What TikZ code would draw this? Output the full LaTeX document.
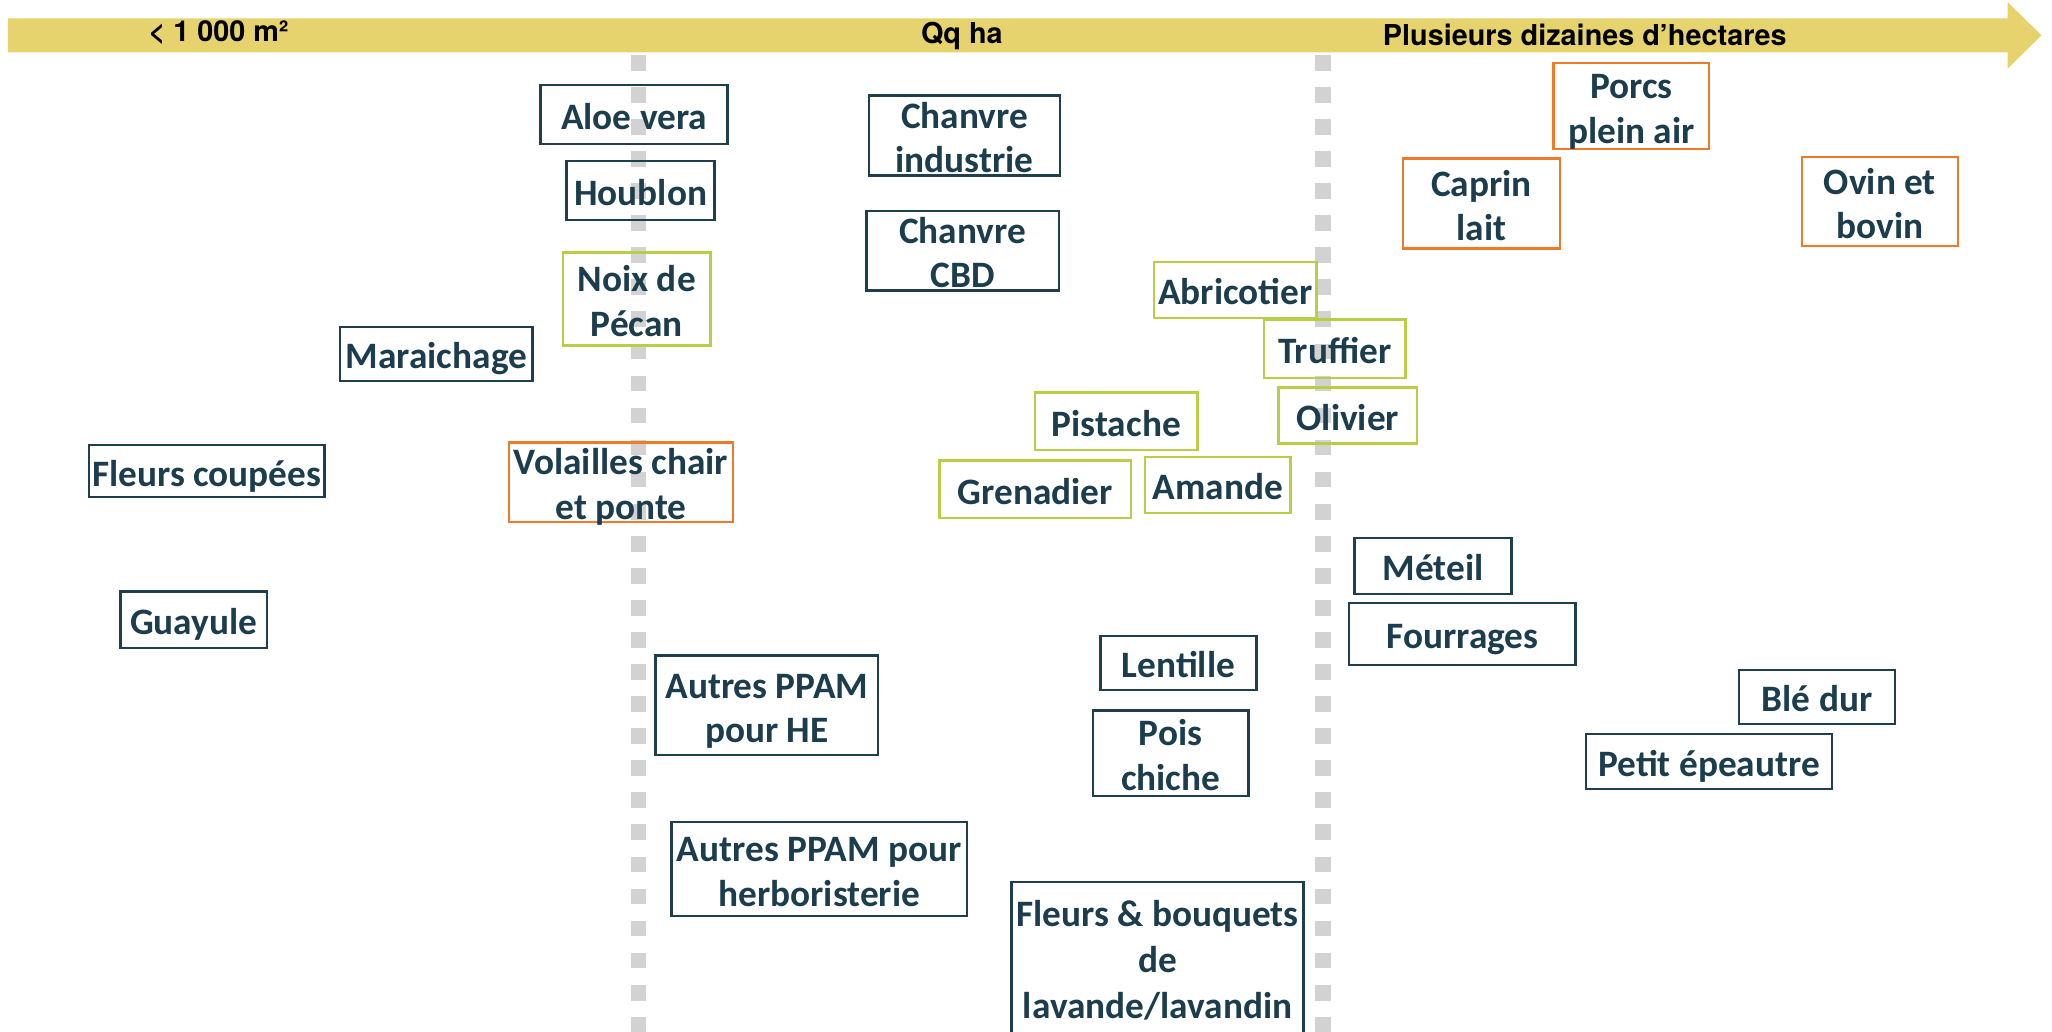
\documentclass[tikz,border=0pt]{standalone}
\usepackage{fontspec}
\newfontfamily\boxfont{Carlito}
\newfontfamily\hdrfont{TeX Gyre Heros}
\definecolor{boxdark}{HTML}{1F3F4F}
\definecolor{textdark}{HTML}{1B3D4D}
\definecolor{boxgreen}{HTML}{B7CE45}
\definecolor{boxorange}{HTML}{EE7A2A}
\definecolor{bandyellow}{HTML}{E6D36E}
\definecolor{sepgray}{HTML}{D2D2D2}
\newcommand\bxt[2][10.8pt]{\raisebox{-#1}[5pt][5pt]{\begin{tabular}{@{}c@{}}#2\end{tabular}}}
\begin{document}
\begin{tikzpicture}[x=1pt,y=-1pt,
  bx/.style={draw=boxdark, line width=1.8pt, text=textdark, inner sep=0pt,
    font=\boxfont\bfseries\fontsize{28.5}{34}\selectfont},
  gbx/.style={bx, draw=boxgreen},
  obx/.style={bx, draw=boxorange},
  hdr/.style={anchor=base, inner sep=0pt, text=black,
    font=\hdrfont\bfseries\fontsize{22}{26}\selectfont},
  sepline/.style={draw=sepgray, line width=12pt, dash pattern=on 12pt off 12.5pt}]
\clip (0,0) rectangle (1568,788);
\fill[white] (0,0) rectangle (1568,788);
% axis arrow
\fill[bandyellow] (6,14) -- (1534,14) -- (1534,1.5) -- (1560,27) -- (1534,52.5) -- (1534,40) -- (6,40) -- cycle;
\node[hdr] (h1) at (167,32) {< 1 000 m²};
\node[hdr] (h2) at (735,33.5) {Qq ha};
\node[hdr] (h3) at (1211,35) {Plusieurs dizaines d’hectares};
% separators
\coordinate (s1a) at (488,42);
\coordinate (s1b) at (488,800);
\coordinate (s2a) at (1011,42);
\coordinate (s2b) at (1011,800);
\draw[sepline] (s1a) -- (s1b);
\draw[sepline] (s2a) -- (s2b);
% boxes
\node[bx, minimum width=143pt, minimum height=45pt] (aloe) at (484.5,87.5) {\bxt{Aloe vera}};
\node[bx, minimum width=113pt, minimum height=45pt] (houblon) at (489.5,145.5) {\bxt{Houblon}};
\node[gbx, minimum width=113pt, minimum height=71pt] (pecan) at (486.5,228.5) {\bxt{Noix de\\Pécan}};
\node[bx, minimum width=147pt, minimum height=41pt] (maraich) at (333.5,270.5) {\bxt{Maraichage}};
\node[bx, minimum width=180pt, minimum height=40pt] (fleursc) at (158,360) {\bxt{Fleurs coupées}};
\node[obx, minimum width=171pt, minimum height=61pt] (volailles) at (474.5,368.5) {\bxt{Volailles chair\\et ponte}};
\node[bx, minimum width=112pt, minimum height=43pt] (guayule) at (148,473.5) {\bxt{Guayule}};
\node[bx, minimum width=146pt, minimum height=61pt] (chanvrei) at (737,103.5) {\bxt{Chanvre\\industrie}};
\node[bx, minimum width=147pt, minimum height=61pt] (chanvrec) at (735.5,191.5) {\bxt{Chanvre\\CBD}};
\node[gbx, minimum width=124pt, minimum height=43pt] (abricot) at (944,221.5) {\bxt{Abricotier}};
\node[gbx, minimum width=108pt, minimum height=45pt] (truffier) at (1020,266.5) {\bxt{Truffier}};
\node[gbx, minimum width=106pt, minimum height=43pt] (olivier) at (1030,317.5) {\bxt{Olivier}};
\node[gbx, minimum width=124pt, minimum height=44pt] (pistache) at (853,322) {\bxt{Pistache}};
\node[gbx, minimum width=146pt, minimum height=44pt] (grenad) at (791,374) {\bxt{Grenadier}};
\node[gbx, minimum width=111pt, minimum height=43pt] (amande) at (930.5,370.5) {\bxt{Amande}};
\node[bx, minimum width=120pt, minimum height=43pt] (meteil) at (1095,432.5) {\bxt{Méteil}};
\node[bx, minimum width=173pt, minimum height=47pt] (fourrages) at (1117.5,484.5) {\bxt{Fourrages}};
\node[bx, minimum width=119pt, minimum height=41pt] (lentille) at (900.5,506.5) {\bxt{Lentille}};
\node[bx, minimum width=119pt, minimum height=65pt] (pois) at (894.5,575.5) {\bxt{Pois\\chiche}};
\node[bx, minimum width=170pt, minimum height=76pt] (ppamhe) at (586,539) {\bxt{Autres PPAM\\pour HE}};
\node[bx, minimum width=226pt, minimum height=72pt] (ppamherb) at (626,664) {\bxt{Autres PPAM pour\\herboristerie}};
\node[bx, minimum width=223pt, minimum height=126pt, font=\boxfont\bfseries\fontsize{28.5}{35}\selectfont] (lavande) at (884.5,737) {\bxt[5.1pt]{Fleurs \& bouquets\\de\\lavande/lavandin}};
\node[obx, minimum width=119pt, minimum height=66pt] (porcs) at (1246.5,81) {\bxt{Porcs\\plein air}};
\node[obx, minimum width=120pt, minimum height=69pt] (caprin) at (1132,155.5) {\bxt{Caprin\\lait}};
\node[obx, minimum width=119pt, minimum height=68pt] (ovin) at (1436.5,154) {\bxt{Ovin et\\bovin}};
\node[bx, minimum width=119pt, minimum height=41pt] (ble) at (1388.5,532.5) {\bxt{Blé dur}};
\node[bx, minimum width=188pt, minimum height=42pt] (epeautre) at (1306,582) {\bxt{Petit épeautre}};
\end{tikzpicture}
\end{document}
